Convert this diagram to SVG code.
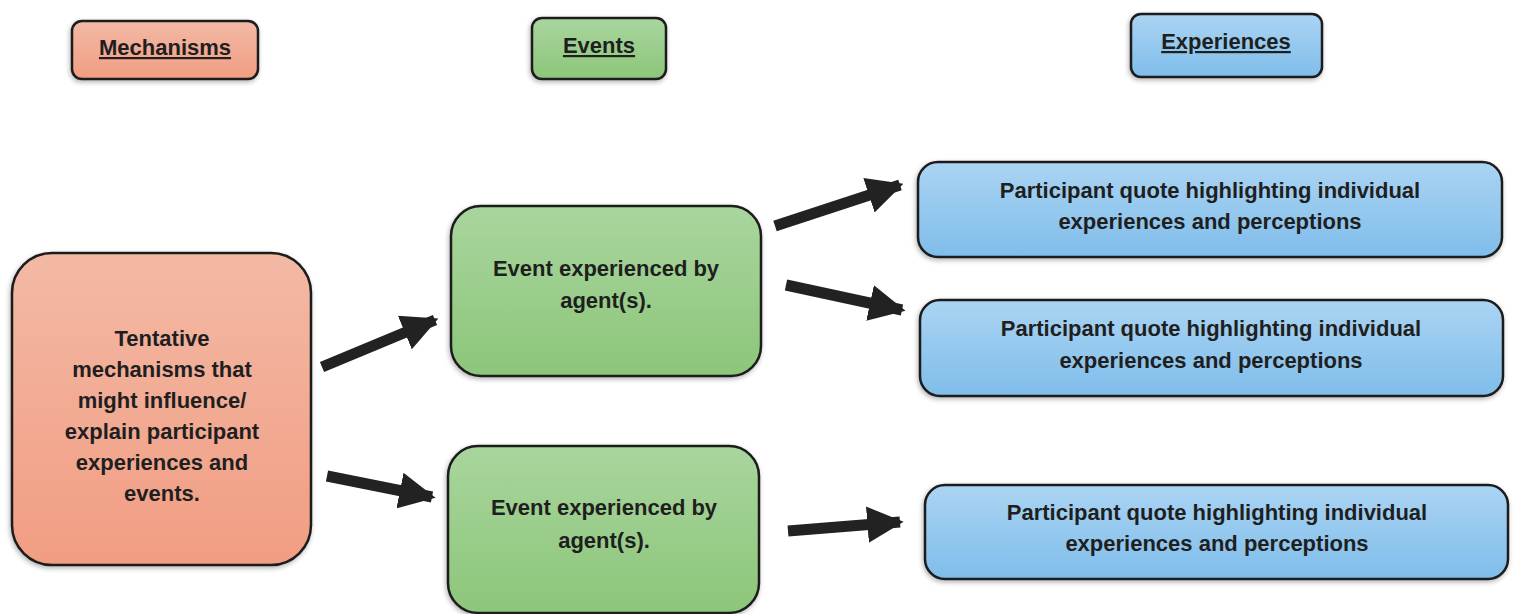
<svg xmlns="http://www.w3.org/2000/svg" width="1516" height="614" viewBox="0 0 1516 614">
  <defs>
    <linearGradient id="gSalmon" x1="0" y1="0" x2="0" y2="1">
      <stop offset="0" stop-color="#f3b9a5"/>
      <stop offset="1" stop-color="#f19d82"/>
    </linearGradient>
    <linearGradient id="gGreen" x1="0" y1="0" x2="0" y2="1">
      <stop offset="0" stop-color="#a9d59d"/>
      <stop offset="1" stop-color="#8cc67a"/>
    </linearGradient>
    <linearGradient id="gBlue" x1="0" y1="0" x2="0" y2="1">
      <stop offset="0" stop-color="#abd4f3"/>
      <stop offset="1" stop-color="#7fbdea"/>
    </linearGradient>
    <filter id="shadow" x="-10%" y="-10%" width="120%" height="130%">
      <feDropShadow dx="-1" dy="2" stdDeviation="2.5" flood-color="#000" flood-opacity="0.3"/>
    </filter>
    <marker id="head" viewBox="0 0 10 10" refX="9" refY="5" markerWidth="3.3" markerHeight="3.3" orient="auto" markerUnits="strokeWidth">
      <path d="M0,0 L10,5 L0,10 Z" fill="#222"/>
    </marker>
  </defs>
  <style>
    .box { stroke: #1c1c1c; stroke-width: 2.5; filter: url(#shadow); }
    .salmon { fill: url(#gSalmon); }
    .green { fill: url(#gGreen); }
    .blue { fill: url(#gBlue); }
    .t { font-family: "Liberation Sans", Arial, sans-serif; font-weight: bold; fill: #1f1f1f; text-anchor: middle; }
    .body { font-size: 22px; }
    .head { font-size: 22px; text-decoration: underline; }
    .arrow { stroke: #222; stroke-width: 11; fill: none; marker-end: url(#head); }
  </style>
  <rect width="1516" height="614" fill="#ffffff"/>

  <!-- column headings -->
  <g id="header-mechanisms">
    <rect class="box salmon" x="72" y="21" width="186" height="58" rx="10"/>
    <text class="t head" x="165" y="55">Mechanisms</text>
  </g>
  <g id="header-events">
    <rect class="box green" x="532" y="18" width="134" height="61" rx="10"/>
    <text class="t head" x="599" y="53">Events</text>
  </g>
  <g id="header-experiences">
    <rect class="box blue" x="1131" y="14" width="191" height="63" rx="10"/>
    <text class="t head" x="1226" y="49">Experiences</text>
  </g>

  <!-- mechanisms -->
  <g id="mechanism">
    <rect class="box salmon" x="12" y="253" width="299" height="312" rx="40"/>
    <text class="t body" x="162" y="346">Tentative</text>
    <text class="t body" x="162" y="377">mechanisms that</text>
    <text class="t body" x="162" y="408">might influence/</text>
    <text class="t body" x="162" y="439">explain participant</text>
    <text class="t body" x="162" y="470">experiences and</text>
    <text class="t body" x="162" y="501">events.</text>
  </g>

  <!-- events -->
  <g id="event-1">
    <rect class="box green" x="451" y="206" width="310" height="170" rx="30"/>
    <text class="t body" x="606" y="276">Event experienced by</text>
    <text class="t body" x="606" y="308">agent(s).</text>
  </g>
  <g id="event-2">
    <rect class="box green" x="448" y="446" width="311" height="167" rx="30"/>
    <text class="t body" x="604" y="515">Event experienced by</text>
    <text class="t body" x="604" y="548">agent(s).</text>
  </g>

  <!-- experiences -->
  <g id="experience-1">
    <rect class="box blue" x="918" y="162" width="584" height="95" rx="20"/>
    <text class="t body" x="1210" y="198">Participant quote highlighting individual</text>
    <text class="t body" x="1210" y="229">experiences and perceptions</text>
  </g>
  <g id="experience-2">
    <rect class="box blue" x="920" y="300" width="583" height="96" rx="20"/>
    <text class="t body" x="1211" y="336">Participant quote highlighting individual</text>
    <text class="t body" x="1211" y="368">experiences and perceptions</text>
  </g>
  <g id="experience-3">
    <rect class="box blue" x="925" y="485" width="583" height="94" rx="20"/>
    <text class="t body" x="1217" y="520">Participant quote highlighting individual</text>
    <text class="t body" x="1217" y="551">experiences and perceptions</text>
  </g>

  <!-- connectors -->
  <g id="connectors">
    <line class="arrow" x1="322" y1="367" x2="435" y2="320"/>
    <line class="arrow" x1="327" y1="476" x2="432" y2="497"/>
    <line class="arrow" x1="775" y1="226" x2="900" y2="185"/>
    <line class="arrow" x1="786" y1="285" x2="902" y2="310"/>
    <line class="arrow" x1="788" y1="531" x2="900" y2="522"/>
  </g>
</svg>
